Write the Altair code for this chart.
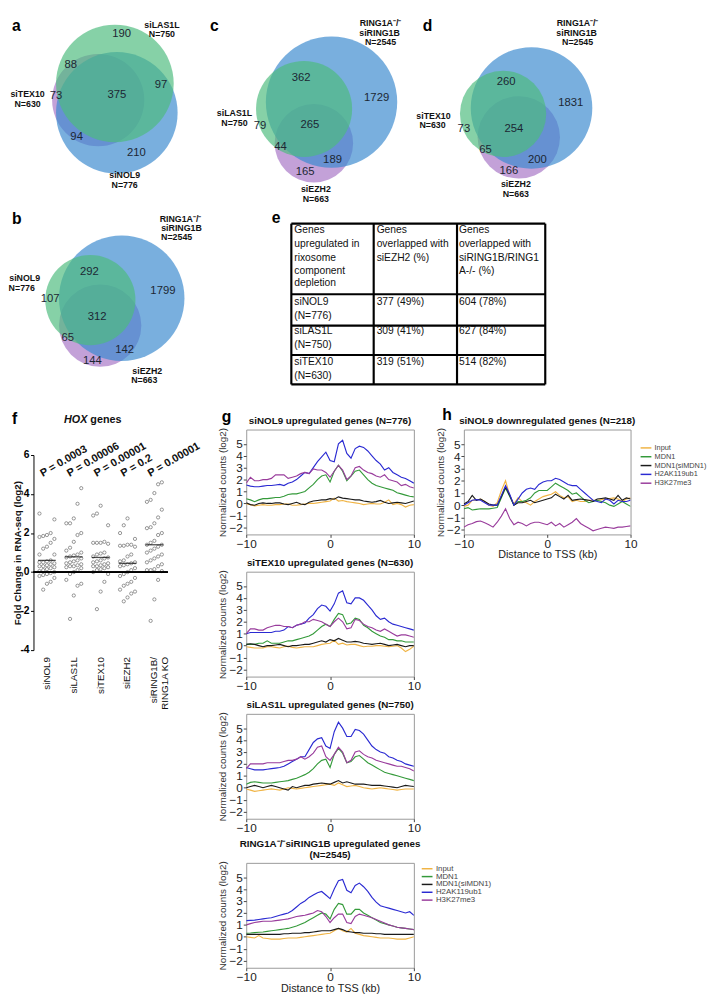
import altair as alt
import pandas as pd

FONT = "Liberation Sans"

# ---------------- panels a-d : Venn diagrams (figure-pixel frame) ----------------
VENN_SET = ["siTEX10", "siNOL9", "siLAS1L",
            "siEZH2", "RING1A-/-siRING1B", "siNOL9",
            "siEZH2", "RING1A-/-siRING1B", "siLAS1L",
            "siEZH2", "RING1A-/-siRING1B", "siTEX10"]
VENN_CX = [96, 115, 113, 98, 120, 88, 316, 334, 306, 525, 538, 509]
VENN_CY = [92, 105, 75, 322, 294, 296, 136, 94, 101, 130, 100, 106]
VENN_R = [47, 62, 60, 42, 64, 46, 40, 67, 49, 42, 62, 44]
VENN_FILL = ["#A775C6", "#3A89CF", "#4DBB7E"] * 4

VN_TEXT = ["190", "88", "97", "73", "375", "94", "210",
           "292", "107", "1799", "312", "65", "142", "144",
           "362", "1729", "79", "265", "44", "189", "165",
           "260", "1831", "73", "254", "65", "200", "166"]
VN_X = [120, 68, 160, 53, 115, 74, 135, 87, 47, 162, 95, 65, 123, 90,
        303, 380, 261, 312, 282, 335, 307, 512, 578, 469, 520, 491, 544, 515]
VN_Y = [25, 56, 77, 88, 87, 130, 146, 267, 295, 287, 313, 335, 347, 358,
        70, 90, 118, 117, 140, 153, 165, 74, 95, 122, 122, 143, 153, 164]

VL_TEXT = ["siLAS1L", "N=750", "siTEX10", "N=630", "siNOL9", "N=776",
           "RING1A⁻/⁻", "siRING1B", "N=2545", "siNOL9", "N=776", "siEZH2", "N=663",
           "RING1A⁻/⁻", "siRING1B", "N=2545", "siLAS1L", "N=750", "siEZH2", "N=663",
           "RING1A⁻/⁻", "siRING1B", "N=2545", "siTEX10", "N=630", "siEZH2", "N=663"]
VL_X = [161, 161, 24, 24, 123, 123, 180, 181, 176, 21, 18, 146, 143,
        384, 383, 384, 235, 235, 318, 318, 585, 584, 585, 438, 437, 522, 522]
VL_Y = [15, 25, 86, 96, 168, 179, 213, 223, 232, 274, 284, 368, 378,
        13, 24, 33, 105, 115, 183, 193, 13, 24, 33, 108, 117, 178, 188]

LET_TEXT = ["a", "b", "c", "d", "e", "f", "g", "h"]
LET_X = [8, 8, 210, 427, 273, 8, 222, 447]
LET_Y = [21, 218, 21, 21, 217, 422, 420, 418]

# ---------------- panel e : table ----------------
TBL_COLS = [293, 377, 462, 552]
TBL_ROWS = [218, 290, 322, 352, 382]
TBL_TEXT = ["Genes", "upregulated in", "rixosome", "component", "depletion",
            "Genes", "overlapped with", "siEZH2 (%)",
            "Genes", "overlapped with", "siRING1B/RING1", "A-/- (%)",
            "siNOL9", "(N=776)", "377  (49%)", "604 (78%)",
            "siLAS1L", "(N=750)", "309 (41%)", "627 (84%)",
            "siTEX10", "(N=630)", "319 (51%)", "514 (82%)"]
TBL_TX = [296] * 5 + [380] * 3 + [464] * 4 + [296, 296, 380, 464] * 3
TBL_TY = [225, 239, 253, 266, 279, 225, 239, 253, 225, 239, 253, 266,
          298, 312, 298, 298, 328, 342, 328, 328, 359, 373, 359, 359]

# ---------------- panel f : HOX genes ----------------
F_GROUPS = ["siNOL9", "siLAS1L", "siTEX10", "siEZH2", "siRING1B/ RING1A KO"]
F_LABELS = ["siNOL9", "siLAS1L", "siTEX10", "siEZH2", "siRING1B/\nRING1A KO"]
F_YTICKS = [-4, -2, 0, 2, 4, 6]
F_YTICK_TEXT = ["-4", "-2", "0", "2", "4", "6"]
F_NOL9 = [3.0, 2.7, 2.0, 1.9, 1.85, 1.8, 1.7, 1.5, 1.3, 1.2, 0.9, 0.9, 0.6, 0.55, 0.5, 0.5, 0.45,
          0.4, 0.35, 0.3, 0.3, 0.25, 0.2, 0.15, 0.1, 0.05, 0.0, -0.05, -0.1, -0.15, -0.2, -0.3,
          -0.5, -0.6, -0.9]
F_LAS1L = [4.3, 3.5, 2.75, 2.5, 2.5, 2.0, 1.9, 1.55, 1.25, 1.1, 1.0, 0.9, 0.85, 0.8, 0.75, 0.7,
           0.6, 0.55, 0.5, 0.45, 0.4, 0.35, 0.3, 0.3, 0.25, 0.2, 0.1, 0.0, -0.1, -0.4, -0.6,
           -0.7, -1.2, -2.4]
F_TEX10 = [3.4, 3.0, 2.9, 2.4, 1.55, 1.5, 1.5, 1.45, 1.5, 1.0, 0.95, 0.9, 0.8, 0.75, 0.7, 0.6,
           0.55, 0.5, 0.45, 0.4, 0.35, 0.3, 0.3, 0.25, 0.2, 0.15, 0.1, 0.0, -0.1, -0.5, -1.0, -1.9]
F_EZH2 = [2.75, 2.4, 2.0, 1.7, 1.4, 1.35, 1.4, 1.3, 1.35, 0.9, 0.8, 0.6, 0.55, 0.5, 0.45, 0.4,
          0.35, 0.3, 0.2, 0.1, 0.0, -0.1, -0.2, -0.3, -0.5, -0.6, -0.7, -0.9, -1.0, -1.1, -1.3, -1.5]
F_RING = [4.6, 4.5, 4.05, 3.7, 3.6, 3.2, 2.8, 2.5, 2.3, 2.25, 2.0, 1.9, 1.6, 1.5, 1.4, 1.4, 1.3,
          1.2, 1.1, 1.0, 0.9, 0.8, 0.7, 0.6, 0.5, 0.4, 0.3, 0.15, 0.1, 0.1, 0.05, -0.4, -1.4, -2.5]
F_MEAN = [0.6, 0.78, 0.75, 0.45, 1.4]
F_P = ["P = 0.0003", "P = 0.00006", "P = 0.00001", "P = 0.2", "P = 0.00001"]

# ---------------- panels g, h : profiles ----------------
SERIES = ["Input", "MDN1", "MDN1(siMDN1)", "H2AK119ub1", "H3K27me3"]
COLORS = ["#F0B445", "#349A3A", "#1A1A1A", "#2A2AD2", "#993C9C"]
X_KB = [-10.0, -9.5, -9.0, -8.5, -8.0, -7.5, -7.0, -6.5, -6.0, -5.5, -5.0, -4.5, -4.0, -3.5,
        -3.0, -2.5, -2.0, -1.5, -1.0, -0.5, 0.0, 0.5, 1.0, 1.5, 2.0, 2.5, 3.0, 3.5, 4.0, 4.5,
        5.0, 5.5, 6.0, 6.5, 7.0, 7.5, 8.0, 8.5, 9.0, 9.5, 10.0]

G1_INPUT = [-0.05, -0.1, -0.2, -0.15, -0.1, -0.15, -0.15, -0.1, -0.1, -0.05, -0.05, -0.15, -0.15,
            -0.1, -0.05, 0.0, 0.0, 0.05, 0.1, 0.15, 0.2, 0.45, 0.2, 0.25, 0.15, 0.1, 0.05, 0.0,
            -0.1, -0.05, 0.0, -0.05, -0.05, 0.1, 0.3, -0.1, 0.0, -0.1, -0.3, -0.15, -0.1]
G1_MDN1 = [0.4, 0.3, 0.15, 0.3, 0.4, 0.4, 0.45, 0.5, 0.5, 0.6, 0.75, 0.8, 0.8, 0.9, 1.0, 1.3, 1.6,
           2.0, 2.3, 2.4, 1.8, 2.7, 3.2, 2.7, 1.9, 2.3, 2.7, 2.8, 2.4, 2.0, 1.7, 1.5, 1.4, 1.3,
           1.2, 1.1, 0.9, 0.8, 0.7, 0.6, 0.55]
G1_SIMDN1 = [0.05, -0.1, -0.15, 0.0, 0.05, 0.0, 0.0, 0.05, 0.05, -0.05, -0.1, 0.0, 0.1, -0.05,
             -0.1, 0.1, 0.2, 0.25, 0.3, 0.3, 0.4, 0.35, 0.55, 0.45, 0.4, 0.35, 0.3, 0.3, 0.2,
             0.15, 0.1, 0.15, 0.25, 0.1, 0.0, 0.05, 0.1, 0.05, 0.0, 0.1, 0.2]
G1_H2A = [1.55, 1.45, 1.4, 1.4, 1.45, 1.5, 1.5, 1.55, 1.6, 1.5, 1.7, 1.8, 2.0, 2.3, 2.6, 2.5, 3.0,
          3.5, 3.9, 4.3, 3.6, 3.5, 5.0, 5.3, 4.2, 3.8, 4.6, 4.8, 4.7, 4.4, 4.0, 3.6, 3.3, 2.8,
          3.0, 2.6, 2.4, 2.2, 2.1, 1.9, 1.7]
G1_H3K = [1.7, 2.2, 1.9, 1.9, 2.0, 2.0, 2.1, 2.4, 2.4, 2.4, 2.1, 2.2, 2.3, 2.5, 2.6, 2.5, 2.9,
          2.8, 2.8, 2.6, 2.2, 2.7, 3.2, 2.8, 2.0, 2.3, 3.0, 3.1, 2.8, 2.6, 2.5, 2.3, 2.2, 2.4,
          2.0, 1.9, 1.8, 1.5, 1.6, 1.4, 1.3]

G2_INPUT = [-0.1, -0.15, -0.2, -0.2, -0.2, -0.1, -0.1, -0.15, -0.2, -0.1, -0.05, -0.15, -0.2,
            -0.15, -0.1, -0.1, -0.1, 0.0, 0.1, 0.15, 0.2, 0.45, 0.1, 0.2, 0.05, 0.1, 0.1, 0.0,
            -0.1, -0.05, -0.05, 0.0, 0.0, -0.05, -0.1, -0.05, 0.0, -0.2, -0.5, -0.3, -0.05]
G2_MDN1 = [0.1, 0.1, 0.1, 0.2, 0.2, 0.4, 0.2, 0.2, 0.2, 0.3, 0.4, 0.4, 0.5, 0.6, 0.7, 0.8, 1.0,
           1.3, 1.6, 1.8, 1.6, 2.2, 2.7, 2.6, 1.8, 1.9, 2.3, 2.2, 1.7, 1.5, 1.2, 1.0, 0.8, 0.7,
           0.5, 0.5, 0.4, 0.4, 0.3, 0.3, 0.3]
G2_SIMDN1 = [0.1, 0.15, 0.1, 0.0, -0.1, 0.0, 0.0, 0.05, 0.1, 0.0, -0.1, 0.0, 0.0, 0.05, 0.1,
             0.1, 0.2, 0.3, 0.4, 0.3, 0.5, 0.4, 0.6, 0.45, 0.3, 0.3, 0.35, 0.3, 0.2, 0.15, 0.1,
             0.15, 0.2, 0.1, 0.0, 0.05, 0.1, 0.0, -0.1, 0.0, 0.0]
G2_H2A = [1.0, 1.1, 1.1, 1.1, 1.1, 1.1, 1.1, 1.2, 1.2, 1.3, 1.6, 1.5, 1.7, 1.8, 1.9, 2.3, 2.6,
          3.1, 3.4, 3.3, 2.9, 3.5, 4.4, 4.6, 3.6, 3.5, 4.0, 4.0, 3.8, 3.4, 3.0, 2.5, 2.2, 2.3,
          2.0, 1.8, 1.7, 1.6, 1.5, 1.4, 1.3]
G2_H3K = [1.0, 1.4, 1.4, 1.3, 1.3, 1.5, 1.6, 1.7, 1.7, 1.6, 1.6, 1.5, 1.7, 1.8, 2.0, 2.0, 2.2,
          2.1, 2.0, 1.8, 1.6, 2.0, 2.3, 2.0, 1.4, 1.5, 2.2, 2.1, 1.8, 1.6, 1.5, 1.3, 1.2, 1.4,
          1.2, 1.0, 0.8, 0.9, 0.9, 0.8, 0.7]

G3_INPUT = [-0.1, -0.2, -0.3, -0.25, -0.2, -0.15, -0.1, -0.15, -0.2, -0.1, 0.0, -0.05, -0.1,
            -0.05, 0.0, 0.05, 0.1, 0.15, 0.2, 0.25, 0.3, 0.2, 0.4, 0.25, 0.1, 0.15, 0.2, 0.1,
            0.0, -0.05, -0.1, -0.05, 0.0, -0.05, -0.1, -0.15, -0.2, -0.15, -0.1, -0.1, -0.1]
G3_MDN1 = [0.3, 0.45, 0.5, 0.45, 0.4, 0.4, 0.4, 0.45, 0.5, 0.55, 0.6, 0.7, 0.8, 0.95, 1.1, 1.3,
           1.6, 2.0, 2.3, 2.4, 1.7, 2.8, 3.3, 2.9, 2.1, 2.2, 2.6, 2.7, 2.4, 2.1, 1.9, 1.7, 1.5,
           1.3, 1.2, 1.1, 1.0, 0.9, 0.8, 0.7, 0.6]
G3_SIMDN1 = [0.0, 0.1, 0.2, 0.1, 0.0, 0.1, 0.2, 0.1, 0.0, -0.1, -0.2, 0.1, 0.0, 0.1, 0.2, 0.2,
             0.3, 0.35, 0.4, 0.35, 0.3, 0.45, 0.6, 0.4, 0.5, 0.4, 0.3, 0.3, 0.3, 0.25, 0.2, 0.2,
             0.2, 0.15, 0.1, 0.05, 0.0, 0.1, 0.2, 0.15, 0.1]
G3_H2A = [1.7, 1.6, 1.5, 1.5, 1.5, 1.55, 1.6, 1.65, 1.7, 1.8, 2.0, 2.2, 2.4, 2.6, 2.6, 3.2, 3.8,
          4.1, 4.2, 3.5, 3.3, 4.7, 5.5, 5.0, 4.3, 4.3, 4.9, 4.8, 4.5, 4.0, 3.5, 3.2, 3.0, 2.9,
          2.6, 2.5, 2.3, 2.2, 2.0, 1.9, 1.8]
G3_H3K = [1.6, 2.0, 2.0, 2.0, 2.0, 2.1, 2.1, 2.1, 2.1, 2.2, 2.3, 2.3, 2.4, 2.6, 2.4, 2.6, 2.9,
          3.4, 3.5, 2.6, 2.3, 2.8, 3.4, 3.0, 2.1, 2.3, 3.0, 3.1, 2.8, 2.6, 2.5, 2.3, 2.2, 2.1,
          2.0, 1.9, 1.8, 1.8, 1.7, 1.6, 1.4]

G4_INPUT = [0.0, -0.05, -0.1, 0.1, -0.1, -0.15, -0.2, -0.2, -0.2, -0.15, -0.1, -0.1, -0.1,
            -0.05, 0.0, 0.05, 0.1, 0.15, 0.2, 0.25, 0.3, 0.5, 0.7, 0.5, 0.4, 0.7, 0.3, 0.2, 0.1,
            0.05, 0.0, -0.05, -0.1, -0.1, -0.1, -0.15, -0.2, -0.2, -0.2, -0.1, 0.0]
G4_MDN1 = [0.3, 0.32, 0.35, 0.38, 0.4, 0.45, 0.5, 0.55, 0.6, 0.65, 0.7, 0.8, 0.9, 1.05, 1.2,
           1.4, 1.6, 1.8, 2.0, 1.9, 1.5, 2.3, 2.8, 2.7, 1.9, 1.9, 2.3, 2.3, 2.0, 1.8, 1.6, 1.4,
           1.2, 1.1, 1.0, 0.9, 0.8, 0.75, 0.7, 0.65, 0.6]
G4_SIMDN1 = [0.2, 0.2, 0.2, 0.2, 0.2, 0.2, 0.2, 0.2, 0.2, 0.25, 0.25, 0.3, 0.3, 0.3, 0.35, 0.35,
             0.4, 0.45, 0.5, 0.5, 0.5, 0.6, 0.7, 0.6, 0.45, 0.4, 0.35, 0.35, 0.3, 0.3, 0.3, 0.25,
             0.25, 0.2, 0.2, 0.2, 0.2, 0.2, 0.2, 0.2, 0.2]
G4_H2A = [1.35, 1.38, 1.4, 1.45, 1.5, 1.55, 1.6, 1.7, 1.8, 1.9, 2.0, 2.2, 2.5, 2.8, 3.0, 3.3, 3.5,
          3.7, 3.8, 3.5, 3.2, 4.0, 4.7, 4.8, 3.9, 3.7, 4.3, 4.5, 4.2, 3.8, 3.3, 2.9, 2.6, 2.5,
          2.4, 2.3, 2.2, 2.1, 2.0, 2.1, 1.8]
G4_H3K = [1.0, 1.1, 1.2, 1.25, 1.3, 1.3, 1.3, 1.35, 1.4, 1.45, 1.5, 1.6, 1.7, 1.75, 1.8, 1.9, 2.0,
          2.2, 2.1, 1.7, 1.2, 1.6, 1.9, 1.9, 1.2, 1.1, 1.7, 1.9, 1.8, 1.7, 1.6, 1.45, 1.3, 1.15,
          1.0, 0.9, 0.8, 0.75, 0.7, 0.65, 0.6]

H_INPUT = [-0.1, 0.0, 0.4, 0.4, 0.5, 0.3, 0.0, -0.1, 0.2, 1.2, 2.0, 0.8, 0.1, 0.6, 0.3, 0.2, 0.0,
           0.3, 0.5, 0.7, 0.8, 0.9, 1.1, 0.8, 0.6, 0.7, 0.3, 0.4, 0.3, 0.3, 0.4, 0.4, 0.4, 0.45,
           0.5, 0.55, 0.6, 0.5, 0.3, 0.5, 0.6]
H_MDN1 = [-0.3, -0.2, -0.4, -0.35, -0.3, -0.3, -0.3, -0.25, -0.2, 0.6, 1.4, 0.7, 0.0, 0.3, 0.3,
          0.4, 0.6, 1.0, 1.2, 1.2, 1.2, 1.5, 1.8, 1.6, 1.4, 1.2, 0.9, 1.0, 0.7, 0.4, 0.2, 0.3, 0.4,
          0.3, 0.2, 0.0, -0.1, 0.1, 0.3, 0.1, -0.1]
H_SIMDN1 = [0.1, 0.3, 0.8, 0.4, 0.5, 0.3, 0.1, 0.0, 0.0, 0.7, 1.5, 0.8, 0.0, 0.2, 0.2, 0.3, 0.4,
            0.2, 0.3, 0.4, 0.5, 0.6, 0.9, 0.7, 0.5, 0.8, 0.4, 0.45, 0.5, 0.45, 0.4, 0.3, 0.5,
            0.55, 0.6, 0.5, 0.4, 0.8, 0.4, 0.6, 0.5]
H_H2A = [0.0, 0.2, 0.4, 0.45, 0.4, 0.2, 0.0, 0.0, 0.0, 0.8, 1.6, 0.9, 0.0, 0.5, 1.0, 1.3, 1.4,
         1.3, 1.7, 1.9, 2.0, 2.0, 2.2, 2.1, 1.9, 1.7, 1.6, 1.6, 1.3, 1.0, 0.7, 0.4, 0.3, 0.2,
         0.5, 0.4, 0.1, 0.4, 0.3, 0.3, 0.4]
H_H3K = [-1.8, -1.6, -1.5, -1.35, -1.3, -1.45, -1.6, -1.8, -1.4, -0.9, -0.3, -1.1, -1.6, -1.4,
         -1.5, -1.7, -1.5, -1.4, -1.4, -1.5, -1.6, -1.4, -1.7, -1.5, -1.8, -1.6, -1.4, -1.1,
         -1.5, -1.7, -1.9, -2.1, -2.0, -1.9, -1.8, -1.85, -1.9, -1.8, -1.8, -1.75, -1.7]


# =====================================================================
def cx():
    return alt.X("x:Q", scale=alt.Scale(domain=[8, 708], nice=False, zero=False), axis=None)


def cy():
    return alt.Y("y:Q", scale=alt.Scale(domain=[8, 420], nice=False, zero=False, reverse=True),
                 axis=None)


venn_df = pd.DataFrame({"x": VENN_CX, "y": VENN_CY, "r": VENN_R, "fill": VENN_FILL,
                        "set": VENN_SET, "ord": list(range(len(VENN_CX)))})
venn_df["d2"] = (2 * venn_df["r"]) ** 2

circles = alt.Chart(venn_df).mark_circle(opacity=0.68).encode(
    x=cx(), y=cy(), size=alt.Size("d2:Q", scale=None),
    color=alt.Color("fill:N", scale=None), order=alt.Order("ord:Q"))

nums = alt.Chart(pd.DataFrame({"x": VN_X, "y": VN_Y, "t": VN_TEXT})).mark_text(
    font=FONT, fontSize=11.5, color="#1c2733", baseline="middle").encode(x=cx(), y=cy(), text="t:N")

labs = alt.Chart(pd.DataFrame({"x": VL_X, "y": VL_Y, "t": VL_TEXT})).mark_text(
    font=FONT, fontSize=9, fontWeight="bold", color="#111", baseline="middle").encode(
    x=cx(), y=cy(), text="t:N")

letters = alt.Chart(pd.DataFrame({"x": LET_X, "y": LET_Y, "t": LET_TEXT})).mark_text(
    font=FONT, fontSize=16, fontWeight="bold", color="#000", align="left",
    baseline="alphabetic").encode(x=cx(), y=cy(), text="t:N")

h_lines = pd.DataFrame({"x": [TBL_COLS[0]] * len(TBL_ROWS), "x2": [TBL_COLS[-1]] * len(TBL_ROWS),
                        "y": TBL_ROWS, "y2": TBL_ROWS})
v_lines = pd.DataFrame({"x": TBL_COLS, "x2": TBL_COLS, "y": [TBL_ROWS[0]] * len(TBL_COLS),
                        "y2": [TBL_ROWS[-1]] * len(TBL_COLS)})
tbl_lines = alt.Chart(pd.concat([h_lines, v_lines], ignore_index=True)).mark_rule(
    color="#000", strokeWidth=2.2).encode(x=cx(), y=cy(), x2="x2:Q", y2="y2:Q")

tbl_text = alt.Chart(pd.DataFrame({"x": TBL_TX, "y": TBL_TY, "t": TBL_TEXT})).mark_text(
    font=FONT, fontSize=10.5, color="#111", align="left", baseline="middle").encode(
    x=cx(), y=cy(), text="t:N")

hox1 = alt.Chart(pd.DataFrame({"x": [85], "y": [418], "t": ["HOX"]})).mark_text(
    font=FONT, fontSize=11, fontWeight="bold", fontStyle="italic", align="right",
    baseline="middle", color="#111").encode(x=cx(), y=cy(), text="t:N")
hox2 = alt.Chart(pd.DataFrame({"x": [88], "y": [418], "t": ["genes"]})).mark_text(
    font=FONT, fontSize=11, fontWeight="bold", align="left",
    baseline="middle", color="#111").encode(x=cx(), y=cy(), text="t:N")

canvas = alt.layer(circles, tbl_lines, nums, labs, letters, tbl_text, hox1, hox2).properties(
    width=700, height=412)


# ---------------- panel f (cell height 107, plot drawn over rows via scale range) ----------------
f_rows = []
for g, arr in zip(F_GROUPS, [F_NOL9, F_LAS1L, F_TEX10, F_EZH2, F_RING]):
    for v in arr:
        f_rows.append({"grp": g, "val": v})
f_df = pd.DataFrame(f_rows)
f_sum = pd.DataFrame({"grp": F_GROUPS, "mean": F_MEAN, "p": F_P, "lab": F_LABELS})

F_TOP, F_BOT, F_CELL_H = 26, 225, 107
F_XSCALE = alt.Scale(type="band", paddingInner=0, paddingOuter=0)
F_YSCALE = alt.Scale(domain=[-4, 6], nice=False, zero=False, range=[F_BOT, F_TOP])
F_YAXIS = alt.Axis(values=F_YTICKS, title="Fold Change in RNA-seq (log2)",
                   titleFontSize=10, titleFontWeight="bold", titleColor="#111",
                   labels=False, domainColor="#000", tickColor="#000", tickSize=3,
                   titlePadding=8, grid=False, titleFont=FONT, titleY=(F_TOP + F_BOT) / 2)


def fxe():
    return alt.X("grp:N", sort=F_GROUPS, scale=F_XSCALE, axis=None)


f_pts = alt.Chart(f_df).transform_window(
    rank="row_number()", groupby=["grp"], sort=[alt.SortField("val")]
).transform_calculate(off="(datum.rank % 5) - 2").mark_point(
    shape="circle", size=11, filled=False, strokeWidth=0.7, color="#6a6a6a", opacity=1
).encode(
    x=fxe(),
    xOffset=alt.XOffset("off:Q", scale=alt.Scale(domain=[-3.6, 3.6])),
    y=alt.Y("val:Q", scale=F_YSCALE, axis=F_YAXIS))

f_zero = alt.Chart(f_sum).mark_rule(color="#000", strokeWidth=1.2).encode(
    y=alt.Y(datum=0, scale=F_YSCALE, axis=F_YAXIS))
f_mean = alt.Chart(f_sum).mark_tick(color="#000", size=18, thickness=1.3).encode(
    x=fxe(), y=alt.Y("mean:Q", scale=F_YSCALE, axis=F_YAXIS))
f_ptxt = alt.Chart(f_sum).mark_text(
    angle=330, align="left", baseline="alphabetic", dx=-5, font=FONT, fontSize=11,
    fontWeight="bold", color="#111").encode(
    x=fxe(), y=alt.Y(datum=5.0, scale=F_YSCALE, axis=F_YAXIS), text="p:N")
f_xlab = alt.Chart(f_sum).mark_text(
    angle=270, align="right", baseline="middle", dx=-7, font=FONT, fontSize=10, color="#111",
    lineBreak="\n", lineHeight=11).encode(
    x=fxe(), y=alt.Y(datum=-4, scale=F_YSCALE, axis=F_YAXIS), text="lab:N")

f_chart = alt.layer(f_pts, f_zero, f_mean, f_ptxt, f_xlab).properties(
    width=137, height=F_CELL_H)

# y tick labels of panel f, in the narrow cell left of it, placed with the same y scale
f_ylab = alt.Chart(pd.DataFrame({"v": F_YTICKS, "t": F_YTICK_TEXT})).mark_text(
    align="right", baseline="middle", font=FONT, fontSize=10.5, fontWeight="bold",
    color="#000").encode(
    x=alt.value(18),
    y=alt.Y("v:Q", scale=alt.Scale(domain=[-4, 6], nice=False, zero=False,
                                   range=[F_BOT, F_TOP]), axis=None),
    text="t:N").properties(width=22, height=F_CELL_H)


# ---------------- panels g, h ----------------
def profile(title, vals, width, height, ydom, xtitle, legend, toff):
    rows = []
    for name, arr in zip(SERIES, vals):
        for k, v in zip(X_KB, arr):
            rows.append({"kb": k, "val": v, "series": name})
    df = pd.DataFrame(rows)
    xa = dict(values=[-10, 0, 10], labelFontSize=12, labelColor="#222", tickSize=3,
              tickColor="#444", domain=False, grid=False, labelPadding=1, labelFlush=False,
              labelFont=FONT)
    if xtitle:
        xa.update(title=xtitle, titleFontSize=11, titleFontWeight="normal", titleColor="#222",
                  titlePadding=0, titleFont=FONT)
    else:
        xa["title"] = None
    ya = alt.Axis(values=[-2, -1, 0, 1, 2, 3, 4, 5], labelFontSize=12, labelColor="#222",
                  tickSize=3, tickColor="#444", domain=False, grid=False, labelPadding=1,
                  labelOverlap=False, title="Normalized counts (log2)", titleFontSize=10,
                  titleFontWeight="normal", titleColor="#333", titlePadding=1,
                  labelFont=FONT, titleFont=FONT)
    col = alt.Color("series:N", scale=alt.Scale(domain=SERIES, range=COLORS), legend=legend)
    return alt.Chart(df).mark_line(strokeWidth=1.15, clip=True).encode(
        x=alt.X("kb:Q", scale=alt.Scale(domain=[-10, 10], nice=False, zero=False),
                axis=alt.Axis(**xa)),
        y=alt.Y("val:Q", scale=alt.Scale(domain=ydom, nice=False, zero=False), axis=ya),
        color=col,
        order=alt.Order("kb:Q"),
    ).properties(
        width=width, height=height,
        title=alt.TitleParams(title, fontSize=10, fontWeight="bold", offset=toff, anchor="middle",
                              color="#111", font=FONT, lineHeight=11),
        view=alt.ViewBackground(stroke="#999", strokeWidth=1))


def leg(lx, ly, fs):
    return alt.Legend(orient="none", legendX=lx, legendY=ly, title=None,
                      symbolType="M-2.75,0L2.75,0", symbolSize=16, symbolStrokeWidth=1.5,
                      labelFontSize=fs, labelColor="#444", labelFont=FONT, rowPadding=0,
                      labelOffset=5, padding=0)


GY = [-2.6, 6.2]
g1 = profile("siNOL9 upregulated genes (N=776)",
             [G1_INPUT, G1_MDN1, G1_SIMDN1, G1_H2A, G1_H3K], 171, 107, GY, None, None, 2)
g2 = profile("siTEX10 upregulated genes (N=630)",
             [G2_INPUT, G2_MDN1, G2_SIMDN1, G2_H2A, G2_H3K], 171, 107, GY, None, None, 2)
g3 = profile("siLAS1L upregulated genes (N=750)",
             [G3_INPUT, G3_MDN1, G3_SIMDN1, G3_H2A, G3_H3K], 171, 107, GY, None, None, 2)
g4 = profile(["RING1A⁻/⁻siRING1B upregulated genes", "(N=2545)"],
             [G4_INPUT, G4_MDN1, G4_SIMDN1, G4_H2A, G4_H3K], 171, 107, GY,
             "Distance to TSS (kb)", leg(180.5, 2, 8), 1)
hch = profile("siNOL9 downregulated genes (N=218)",
              [H_INPUT, H_MDN1, H_SIMDN1, H_H2A, H_H3K], 170, 107, [-2.4, 6.2],
              "Distance to TSS (kb)", leg(182, 15, 7.5), 2)


def spacer(w, h):
    return alt.Chart(pd.DataFrame({"v": [0]})).mark_point(opacity=0).properties(width=w, height=h)


# grid of single views: columns = [margin, f, gap, g, gap, h]; rows follow the g panels
COL_W = [22, 137, 80, 171, 51, 170]
ROW_H = [8, 107, 38, 107, 38, 107, 45, 107]
PLACED = {(1, 0): f_ylab, (1, 1): f_chart, (1, 3): g1, (3, 3): g2, (5, 3): g3, (7, 3): g4,
          (1, 5): hch}
cells = []
for r, rh in enumerate(ROW_H):
    for c, cw in enumerate(COL_W):
        cells.append(PLACED.get((r, c), spacer(cw, rh)))

bottom = alt.concat(*cells, columns=len(COL_W), spacing=0, bounds="flush",
                    align="none").resolve_scale(
    color="independent", x="independent", y="independent").resolve_legend(color="independent")

chart = alt.vconcat(canvas, bottom, spacing=0, bounds="flush").resolve_scale(
    color="independent", x="independent", y="independent").resolve_legend(
    color="independent").properties(padding=0).configure(font=FONT).configure_view(stroke=None)

chart.save("out.html", embed_options={"renderer": "svg", "actions": False})
